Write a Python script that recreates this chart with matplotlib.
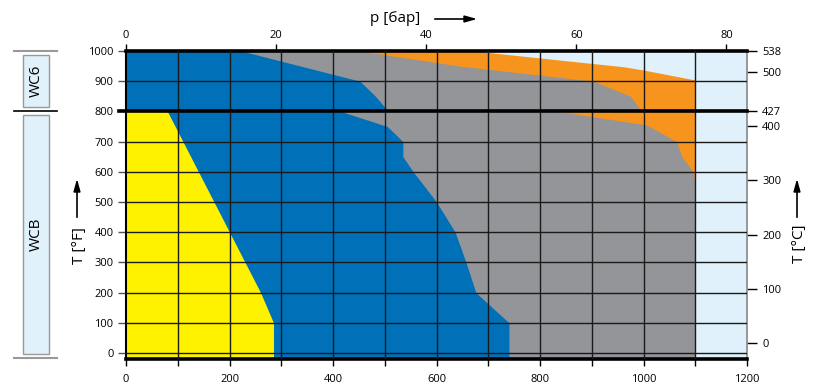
import numpy as np
import matplotlib
matplotlib.use("Agg")
import matplotlib.pyplot as plt
from matplotlib.patches import Rectangle, FancyArrowPatch
from matplotlib.lines import Line2D

plt.rcParams['font.family'] = ['Open Sans', 'DejaVu Sans']

# pressure limits [psi] vs temperature [°F]
# WCB (below 800 °F)
t_yellow = [-20, 100, 200, 800]
p_yellow = [285, 285, 260, 80]

t_blue_wcb = [-20, 100, 200, 300, 400, 500, 600, 650, 700, 750, 800]
p_blue_wcb = [740, 740, 676, 657, 636, 600, 555, 535, 535, 505, 415]

t_gray_wcb = [-20, 550, 600, 650, 700, 755, 800]
p_gray_wcb = [1100, 1100, 1096, 1074, 1064, 1006, 835]

t_orange_wcb = [-20, 800]
p_orange_wcb = [1100, 1100]

# WC6 (800..1000 °F)
t_blue_wc6 = [800, 850, 900, 1000]
p_blue_wc6 = [507, 482, 452, 223]

t_gray_wc6 = [800, 850, 900, 950, 1000]
p_gray_wc6 = [996, 975, 903, 645, 452]

t_orange_wc6 = [800, 904, 937, 948, 970, 1000]
p_orange_wc6 = [1100, 1100, 1000, 961, 838, 674]

bar_ticks = [0, 20, 40, 60, 80]
c_ticks = [0, 100, 200, 300, 400, 500]
c_marks = {800: '427', 1000: '538'}

yellow = '#fff200'
blue = '#0070b8'
gray = '#939598'
orange = '#f7941d'
lightblue = '#e0f1fb'

W, H = 824, 392
fig = plt.figure(figsize=(W / 100, H / 100), dpi=100)
ax = fig.add_axes([126 / W, 1 - 359 / H, 621 / W, 308 / H])
ax.set_facecolor(lightblue)
ax.set_xlim(0, 1200)
ax.set_ylim(-20, 1000)

for t, p, c in [(t_orange_wcb, p_orange_wcb, orange), (t_orange_wc6, p_orange_wc6, orange),
                (t_gray_wcb, p_gray_wcb, gray), (t_gray_wc6, p_gray_wc6, gray),
                (t_blue_wcb, p_blue_wcb, blue), (t_blue_wc6, p_blue_wc6, blue),
                (t_yellow, p_yellow, yellow)]:
    ax.fill_betweenx(t, 0, p, color=c, lw=0)

# grid
for x in range(100, 1200, 100):
    ax.axvline(x, color='#1a1a1a', lw=1, zorder=3)
for y in range(0, 1000, 100):
    if y != 800:
        ax.axhline(y, color='#1a1a1a', lw=1, zorder=3)
ax.add_line(Line2D([-0.012, 1.0], [800, 800], transform=ax.get_yaxis_transform(),
                   color='black', lw=2.6, clip_on=False, zorder=4))

for s in ['top', 'bottom']:
    ax.spines[s].set_linewidth(2.6)
ax.spines['left'].set_linewidth(1.5)
ax.spines['right'].set_linewidth(1.2)
ax.spines['right'].set_color('#888888')

fs = 8
ax.set_xticks(range(0, 1201, 200))
ax.set_xticks(range(100, 1200, 200), minor=True)
ax.set_yticks(range(0, 1001, 100))
ax.tick_params(axis='x', which='both', length=5, width=1, labelsize=fs, pad=6)
ax.tick_params(axis='y', length=6, width=1, color='#555555', labelsize=fs, pad=3)

top = ax.secondary_xaxis('top', functions=(lambda p: p / 14.5038, lambda b: b * 14.5038))
top.set_xticks(bar_ticks)
top.tick_params(length=5, width=1, labelsize=fs, pad=2)
top.spines['top'].set_visible(False)

right = ax.secondary_yaxis('right', functions=(lambda f: (f - 32) / 1.8, lambda c: c * 1.8 + 32))
r_ticks = c_ticks + [(f - 32) / 1.8 for f in c_marks]
r_labels = [str(c) for c in c_ticks] + list(c_marks.values())
right.set_yticks(r_ticks, r_labels)
right.tick_params(length=7, width=1, labelsize=fs, pad=4)
right.spines['right'].set_visible(False)

# material boxes on the left
ytr = ax.get_yaxis_transform()
x0 = (23 - 126) / 621
bw = (49 - 23) / 621
for lo, hi, name in [(815, 987, 'WC6'), (-3, 788, 'WCB')]:
    ax.add_patch(Rectangle((x0, lo), bw, hi - lo, transform=ytr, facecolor=lightblue,
                           edgecolor='#999999', lw=1, clip_on=False))
    ax.text(x0 + bw / 2, (lo + hi) / 2, name, transform=ytr, rotation=90,
            ha='center', va='center', fontsize=11)
lx = [(14 - 126) / 621, (57 - 126) / 621]
ax.add_line(Line2D(lx, [1000, 1000], transform=ytr, color='#999999', lw=1.5, clip_on=False))
ax.add_line(Line2D(lx, [-17, -17], transform=ytr, color='#999999', lw=1.5, clip_on=False))
ax.add_line(Line2D(lx, [800, 800], transform=ytr, color='black', lw=1.2, clip_on=False))

def fxy(px, py):
    return px / W, 1 - py / H

arrow = dict(arrowstyle='-|>,head_length=0.9,head_width=0.25', color='black', lw=1.2,
             mutation_scale=8)
fig.text(*fxy(80, 246), 'T [°F]', rotation=90, ha='center', va='center', fontsize=11)
fig.add_artist(FancyArrowPatch(fxy(77, 220), fxy(77, 176), transform=fig.transFigure, **arrow))
fig.text(*fxy(799, 244), 'T [°C]', rotation=90, ha='center', va='center', fontsize=11)
fig.add_artist(FancyArrowPatch(fxy(797, 220), fxy(797, 176), transform=fig.transFigure, **arrow))
fig.text(*fxy(395, 19), 'p [бар]', ha='center', va='center', fontsize=11)
fig.add_artist(FancyArrowPatch(fxy(432, 19), fxy(480, 19), transform=fig.transFigure, **arrow))

fig.savefig('out.png', dpi=100)
